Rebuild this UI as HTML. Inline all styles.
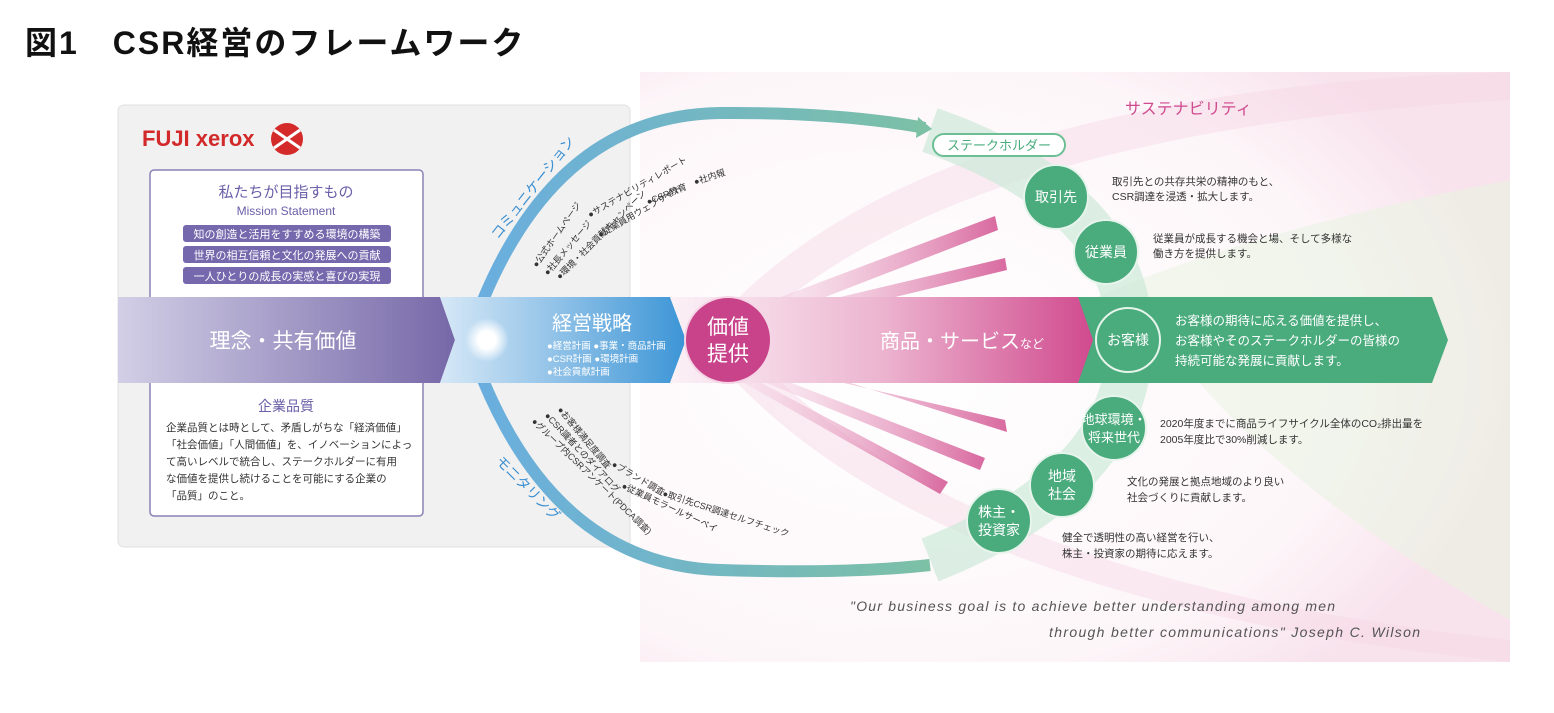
<!DOCTYPE html>
<html><head><meta charset="utf-8"><style>
html,body{margin:0;padding:0;background:#fff;}
body{width:1554px;height:708px;overflow:hidden;font-family:"Liberation Sans","Noto Sans CJK JP",sans-serif;}
svg text{font-family:"Liberation Sans","Noto Sans CJK JP",sans-serif;}
</style></head><body>
<svg width="1554" height="708" viewBox="0 0 1554 708" xmlns="http://www.w3.org/2000/svg">
<defs>
<linearGradient id="pur" x1="0" x2="1"><stop offset="0" stop-color="#d2cfe6"/><stop offset="1" stop-color="#7668a8"/></linearGradient>
<linearGradient id="blu" x1="0" x2="1"><stop offset="0" stop-color="#d6e8f6"/><stop offset="0.4" stop-color="#9cc8ea"/><stop offset="1" stop-color="#3c95d6"/></linearGradient>
<linearGradient id="pnk" x1="0" x2="1"><stop offset="0" stop-color="#fbf2f7"/><stop offset="0.5" stop-color="#ecb4cf"/><stop offset="1" stop-color="#d04a8e"/></linearGradient>
<linearGradient id="arcg" x1="0" x2="1"><stop offset="0" stop-color="#6aaedf"/><stop offset="1" stop-color="#7cc0a6"/></linearGradient>
<linearGradient id="ray" x1="0" x2="1"><stop offset="0" stop-color="#f6dbe8" stop-opacity="0.2"/><stop offset="1" stop-color="#d2508f" stop-opacity="0.85"/></linearGradient>
<radialGradient id="bgp" cx="0.3" cy="0.5" r="0.7"><stop offset="0" stop-color="#fff"/><stop offset="0.75" stop-color="#fdf6f9"/><stop offset="1" stop-color="#f8e2ec"/></radialGradient>
<radialGradient id="glow"><stop offset="0.4" stop-color="#fff"/><stop offset="1" stop-color="#fff" stop-opacity="0"/></radialGradient>
</defs>
<text x="25" y="54" font-size="32" font-weight="bold" fill="#111" letter-spacing="2">図1　CSR経営のフレームワーク</text>

<!-- background sustainability -->
<rect x="640" y="72" width="870" height="590" fill="url(#bgp)"/>
<path d="M700 340 Q900 90 1510 72 L1510 100 Q950 130 740 340 Z" fill="#f6d7e5" opacity="0.45"/>
<path d="M700 340 Q900 600 1510 662 L1510 640 Q950 580 740 340 Z" fill="#f6d7e5" opacity="0.45"/>
<path d="M1090 300 Q1250 230 1510 180 L1510 620 Q1300 500 1200 383 Z" fill="#eaf3e2" opacity="0.6"/>
<path d="M930 130 Q1130 200 1130 340 Q1130 480 930 560" fill="none" stroke="#cde9d9" stroke-width="46" opacity="0.7"/>
<text x="1125" y="114" font-size="16" fill="#d04a8e">サステナビリティ</text>

<!-- grey panel -->
<rect x="118" y="105" width="512" height="442" rx="6" fill="#f1f1f1" stroke="#e0e0e0"/>
<text x="142" y="146" font-size="22" font-weight="bold" fill="#d22a2a">FUJI xerox</text>
<circle cx="287" cy="139" r="16" fill="#d42a2a"/>
<path d="M274 130 L300 148 M300 130 L274 148" stroke="#fff" stroke-width="3"/>
<rect x="150" y="170" width="273" height="140" rx="4" fill="#fff" stroke="#8a82b8" stroke-width="1.5"/>
<text x="286" y="197" font-size="15" fill="#6a5fa8" text-anchor="middle">私たちが目指すもの</text>
<text x="286" y="215" font-size="12" fill="#6a5fa8" text-anchor="middle">Mission Statement</text>
<rect x="183" y="225" width="208" height="17" rx="3" fill="#7568ad"/>
<rect x="183" y="246" width="208" height="17" rx="3" fill="#7568ad"/>
<rect x="183" y="267" width="208" height="17" rx="3" fill="#7568ad"/>
<text x="287" y="238" font-size="11" fill="#fff" text-anchor="middle">知の創造と活用をすすめる環境の構築</text>
<text x="287" y="259" font-size="11" fill="#fff" text-anchor="middle">世界の相互信頼と文化の発展への貢献</text>
<text x="287" y="280" font-size="11" fill="#fff" text-anchor="middle">一人ひとりの成長の実感と喜びの実現</text>
<rect x="150" y="370" width="273" height="146" rx="4" fill="#fff" stroke="#8a82b8" stroke-width="1.5"/>
<text x="286" y="411" font-size="14" fill="#6a5fa8" text-anchor="middle">企業品質</text>
<g font-size="10.5" fill="#333">
<text x="166" y="431">企業品質とは時として、矛盾しがちな「経済価値」</text>
<text x="166" y="448">「社会価値」「人間価値」を、イノベーションによっ</text>
<text x="166" y="465">て高いレベルで統合し、ステークホルダーに有用</text>
<text x="166" y="482">な価値を提供し続けることを可能にする企業の</text>
<text x="166" y="499">「品質」のこと。</text>
</g>

<!-- arcs -->
<path d="M483 300 Q560 115 720 113 Q840 112 925 128" fill="none" stroke="url(#arcg)" stroke-width="12"/>
<path d="M918 117 L932 129 L916 138 Z" fill="#7cc0a6"/>
<path d="M483 380 Q560 565 720 570 Q850 574 930 565" fill="none" stroke="url(#arcg)" stroke-width="12"/>
<text font-size="14" fill="#3b8fd2" transform="translate(498,240) rotate(-52)">コミュニケーション</text>
<text font-size="14" fill="#3b8fd2" transform="translate(495,462) rotate(45)">モニタリング</text>
<g font-size="9" fill="#333">
<text transform="translate(537,268) rotate(-55)">●公式ホームページ</text>
<text transform="translate(548,276) rotate(-50)">●社長メッセージ</text>
<text transform="translate(560,280) rotate(-45)">●環境・社会貢献キャンペーン</text>
<text transform="translate(590,218) rotate(-30)">●サステナビリティレポート</text>
<text transform="translate(600,238) rotate(-30)">●従業員用ウェブサイト</text>
<text transform="translate(648,205) rotate(-22)">●CSR教育</text>
<text transform="translate(695,185) rotate(-18)">●社内報</text>
<text transform="translate(557,410) rotate(50)">●お客様満足度調査</text>
<text transform="translate(544,416) rotate(47)">●CSR識者とのダイアログ</text>
<text transform="translate(531,422) rotate(44)">●グループ内CSRアンケート(PDCA調査)</text>
<text transform="translate(611,466) rotate(30)">●ブランド調査</text>
<text transform="translate(621,488) rotate(25)">●従業員モラールサーベイ</text>
<text transform="translate(662,496) rotate(18)">●取引先CSR調達セルフチェック</text>
</g>

<!-- rays -->
<g>
<polygon points="720,320 995,216 998,230 725,336" fill="url(#ray)"/>
<polygon points="722,325 1005,258 1007,270 726,338" fill="url(#ray)"/>
<polygon points="722,355 1005,420 1007,432 726,344" fill="url(#ray)"/>
<polygon points="722,356 985,458 980,470 720,364" fill="url(#ray)"/>
<polygon points="718,360 948,482 940,494 714,366" fill="url(#ray)"/>
</g>

<!-- main band -->
<polygon points="118,297 440,297 455,340 440,383 118,383" fill="url(#pur)"/>
<polygon points="440,297 670,297 686,340 670,383 440,383 455,340" fill="url(#blu)"/>
<circle cx="487" cy="340" r="22" fill="url(#glow)"/>
<polygon points="670,297 1080,297 1095,340 1080,383 670,383 686,340" fill="url(#pnk)"/>
<polygon points="1078,297 1432,297 1448,340 1432,383 1078,383 1093,340" fill="#4aab7d"/>
<text x="283" y="348" font-size="21" fill="#fff" text-anchor="middle">理念・共有価値</text>
<text x="592" y="330" font-size="20" fill="#fff" text-anchor="middle">経営戦略</text>
<g font-size="9.5" fill="#fff"><text x="547" y="349">●経営計画 ●事業・商品計画</text><text x="547" y="362">●CSR計画 ●環境計画</text><text x="547" y="375">●社会貢献計画</text></g>
<circle cx="728" cy="340" r="43" fill="#c8438a" stroke="#f5d5e6" stroke-width="2"/>
<text x="728" y="334" font-size="21" fill="#fff" text-anchor="middle">価値</text>
<text x="728" y="361" font-size="21" fill="#fff" text-anchor="middle">提供</text>
<text x="880" y="348" font-size="20" fill="#fff">商品・サービス<tspan font-size="12">など</tspan></text>
<g font-size="12.5" fill="#fff"><text x="1175" y="325">お客様の期待に応える価値を提供し、</text><text x="1175" y="345">お客様やそのステークホルダーの皆様の</text><text x="1175" y="365">持続可能な発展に貢献します。</text></g>

<!-- stakeholders -->
<rect x="933" y="134" width="132" height="22" rx="11" fill="#fff" stroke="#6cbf94" stroke-width="2"/>
<text x="999" y="150" font-size="13" fill="#4aab7d" text-anchor="middle">ステークホルダー</text>
<g fill="#4aab7d" stroke="#e6f4ec" stroke-width="2">
<circle cx="1056" cy="197" r="32"/><circle cx="1106" cy="252" r="32"/><circle cx="1128" cy="340" r="32"/>
<circle cx="1114" cy="428" r="32"/><circle cx="1062" cy="485" r="32"/><circle cx="999" cy="521" r="32"/>
</g>
<g font-size="14" fill="#fff" text-anchor="middle">
<text x="1056" y="202">取引先</text><text x="1106" y="257">従業員</text><text x="1128" y="345">お客様</text>
<text x="1114" y="424" font-size="13">地球環境・</text><text x="1114" y="442" font-size="13">将来世代</text>
<text x="1062" y="481">地域</text><text x="1062" y="499">社会</text>
<text x="999" y="517">株主・</text><text x="999" y="535">投資家</text>
</g>
<g font-size="10.5" fill="#333">
<text x="1112" y="185">取引先との共存共栄の精神のもと、</text><text x="1112" y="200">CSR調達を浸透・拡大します。</text>
<text x="1153" y="242">従業員が成長する機会と場、そして多様な</text><text x="1153" y="257">働き方を提供します。</text>
<text x="1160" y="427">2020年度までに商品ライフサイクル全体のCO₂排出量を</text><text x="1160" y="443">2005年度比で30%削減します。</text>
<text x="1127" y="485">文化の発展と拠点地域のより良い</text><text x="1127" y="501">社会づくりに貢献します。</text>
<text x="1062" y="541">健全で透明性の高い経営を行い、</text><text x="1062" y="557">株主・投資家の期待に応えます。</text>
</g>
<g font-size="14" fill="#555" font-style="italic">
<text x="850" y="611" textLength="485">"Our business goal is to achieve better understanding among men</text>
<text x="1049" y="637" textLength="371">through better communications"   Joseph C. Wilson</text>
</g>
</svg>
</body></html>
